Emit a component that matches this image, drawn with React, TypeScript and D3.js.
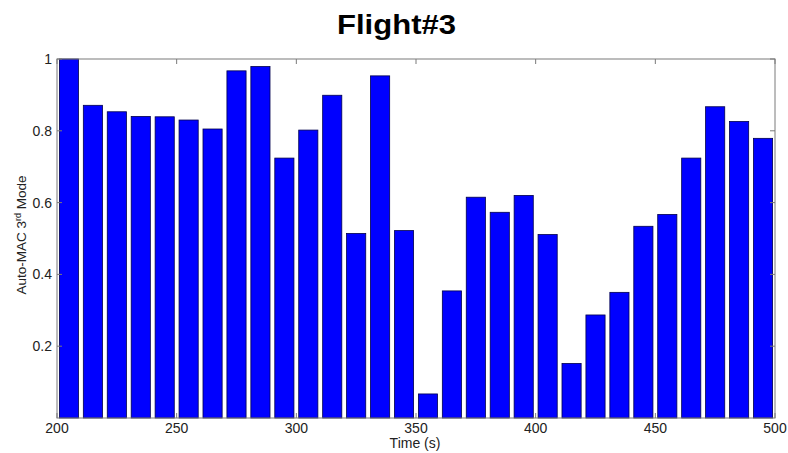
import React from "react";
import * as d3 from "d3";

// Auto-MAC value of the 3rd mode per 10 s window
const times = [205, 215, 225, 235, 245, 255, 265, 275, 285, 295, 305, 315, 325, 335, 345, 355, 365, 375, 385, 395, 405, 415, 425, 435, 445, 455, 465, 475, 485, 495];
const macValues = [1.0, 0.871, 0.853, 0.84, 0.839, 0.83, 0.805, 0.967, 0.979, 0.724, 0.802, 0.899, 0.514, 0.953, 0.522, 0.067, 0.354, 0.615, 0.573, 0.62, 0.511, 0.152, 0.287, 0.35, 0.534, 0.567, 0.724, 0.867, 0.826, 0.779];
const xTicks = [200, 250, 300, 350, 400, 450, 500];
const yTicks = [0.2, 0.4, 0.6, 0.8, 1];

const W = 788;
const H = 453;
const left = 57;
const right = 775;
const top = 59;
const bottom = 418;
const barWidth = 8;
const font = "Liberation Sans, Arial, sans-serif";

export default function App() {
  const x = d3.scaleLinear().domain([200, 500]).range([left, right]);
  const y = d3.scaleLinear().domain([0, 1]).range([bottom, top]);
  const axisColor = "#7a7a7a";
  const tickLen = 5;

  return (
    <svg width={W} height={H} style={{ position: "absolute", left: 0, top: 0, background: "#fff" }}>
      <text
        x={396.5}
        y={34}
        textAnchor="middle"
        fontFamily={font}
        fontWeight="bold"
        fontSize={28}
        textLength={119}
        lengthAdjust="spacingAndGlyphs"
        fill="#000"
      >
        Flight#3
      </text>

      {times.map((t, i) => (
        <rect
          key={t}
          x={x(t - barWidth / 2)}
          y={y(macValues[i])}
          width={x(t + barWidth / 2) - x(t - barWidth / 2)}
          height={y(0) - y(macValues[i])}
          fill="#0000ff"
          stroke="#00004d"
          strokeWidth={0.8}
        />
      ))}

      {/* axis box */}
      <rect x={left} y={top} width={right - left} height={bottom - top} fill="none" stroke={axisColor} strokeWidth={1} />

      {xTicks.map((t) => (
        <g key={t}>
          <line x1={x(t)} x2={x(t)} y1={bottom} y2={bottom - tickLen} stroke={axisColor} />
          <line x1={x(t)} x2={x(t)} y1={top} y2={top + tickLen} stroke={axisColor} />
          <text x={x(t)} y={433} textAnchor="middle" fontFamily={font} fontSize={14} fill="#222">
            {t}
          </text>
        </g>
      ))}

      {yTicks.map((v) => (
        <g key={v}>
          <line x1={left} x2={left + tickLen} y1={y(v)} y2={y(v)} stroke={axisColor} />
          <line x1={right} x2={right - tickLen} y1={y(v)} y2={y(v)} stroke={axisColor} />
          <text x={52} y={y(v) + 5} textAnchor="end" fontFamily={font} fontSize={14} fill="#222">
            {String(v)}
          </text>
        </g>
      ))}

      <text x={415} y={448} textAnchor="middle" fontFamily={font} fontSize={14} fill="#222">
        Time (s)
      </text>

      <text
        transform={`translate(26, 235) rotate(-90)`}
        textAnchor="middle"
        fontFamily={font}
        fontSize={13.5}
        fill="#222"
      >
        Auto-MAC 3<tspan dy={-5} fontSize={9}>rd</tspan>
        <tspan dy={5}> Mode</tspan>
      </text>
    </svg>
  );
}
